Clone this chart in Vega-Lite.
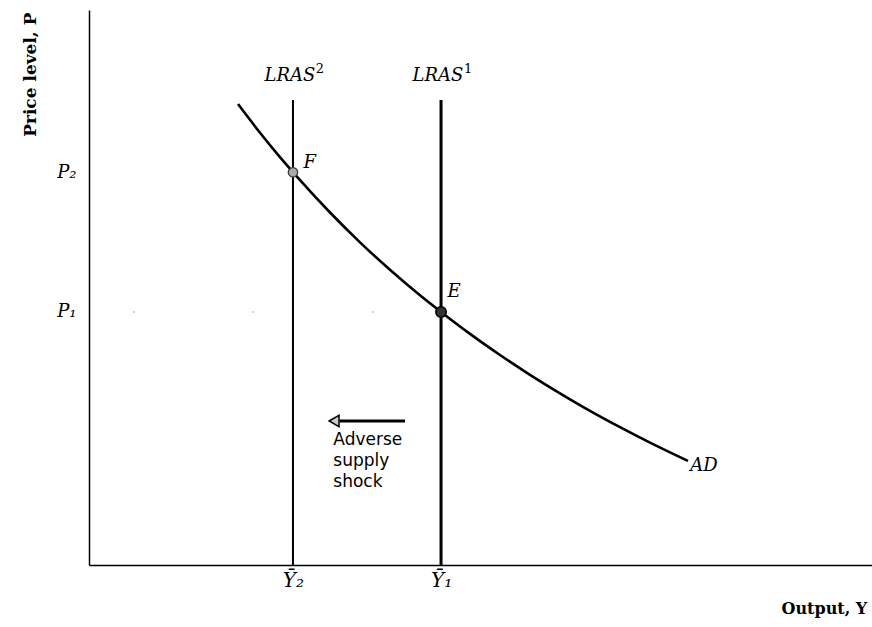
{
  "$schema": "https://vega.github.io/schema/vega-lite/v6.json",
  "width": 783,
  "height": 555,
  "autosize": {"type": "none"},
  "padding": {"left": 89, "top": 10, "right": 0, "bottom": 62},
  "background": "white",
  "config": {"view": {"stroke": null}, "font": "DejaVu Serif"},
  "datasets": {
    "lras": [
      {"curve": "LRAS2", "base": "LRAS", "sup": "2", "x": 26.05, "top": 83.8, "labelY": 88.1},
      {"curve": "LRAS1", "base": "LRAS", "sup": "1", "x": 44.96, "top": 83.8, "labelY": 88.1}
    ],
    "ad": [
      {"x": 19.03, "y": 83.06},
      {"x": 21.84, "y": 77.89},
      {"x": 24.39, "y": 73.48},
      {"x": 26.95, "y": 69.33},
      {"x": 30.78, "y": 63.51},
      {"x": 34.61, "y": 58.14},
      {"x": 38.44, "y": 53.19},
      {"x": 42.27, "y": 48.59},
      {"x": 44.96, "y": 45.59},
      {"x": 48.66, "y": 41.64},
      {"x": 52.49, "y": 37.84},
      {"x": 56.32, "y": 34.27},
      {"x": 60.15, "y": 30.94},
      {"x": 63.98, "y": 27.78},
      {"x": 67.82, "y": 24.83},
      {"x": 71.65, "y": 22.04},
      {"x": 76.5, "y": 18.74}
    ],
    "points": [
      {"name": "F", "x": 26.05, "y": 70.75, "lx": 27.4, "ly": 72.4},
      {"name": "E", "x": 44.96, "y": 45.59, "lx": 45.8, "ly": 49.2}
    ],
    "adLabel": [{"label": "AD", "x": 76.8, "y": 17.84}],
    "arrow": [{"x": 40.36, "x2": 32.0, "y": 25.95, "headX": 31.3}],
    "shock": [{"text": "Adverse\nsupply\nshock", "x": 31.2, "y": 22.52}],
    "p1line": [{"x": 0, "x2": 44.96, "y": 45.59}]
  },
  "layer": [
    {
      "data": {"name": "p1line"},
      "mark": {"type": "rule", "color": "#888", "strokeWidth": 1.2, "strokeDash": [1.5, 118], "strokeDashOffset": -44},
      "encoding": {
        "x": {"field": "x", "type": "quantitative", "scale": {"domain": [0, 100], "nice": false, "zero": false},
          "axis": {
            "values": [26.05, 44.96],
            "labelExpr": "datum.value < 35 ? 'Ȳ₂' : 'Ȳ₁'",
            "ticks": false, "grid": false,
            "domainColor": "black", "domainWidth": 1.5,
            "labelFont": "DejaVu Serif", "labelFontStyle": "italic", "labelFontSize": 20, "labelColor": "black",
            "labelPadding": 5,
            "title": "Output, Y",
            "titleFont": "DejaVu Serif", "titleFontSize": 16, "titleFontWeight": "bold", "titleColor": "black",
            "titleAnchor": null, "titleAlign": "left", "titleX": 692, "titleY": 43, "titleBaseline": "middle"
          }},
        "x2": {"field": "x2"},
        "y": {"field": "y", "type": "quantitative", "scale": {"domain": [0, 100], "nice": false, "zero": false},
          "axis": {
            "values": [45.59, 70.81],
            "labelExpr": "datum.value > 60 ? 'P₂' : 'P₁'",
            "ticks": false, "grid": false,
            "domainColor": "black", "domainWidth": 1.5,
            "labelFont": "DejaVu Serif", "labelFontStyle": "italic", "labelFontSize": 18, "labelColor": "black",
            "labelPadding": 13,
            "title": "Price level, P",
            "titleFont": "DejaVu Serif", "titleFontSize": 17, "titleFontWeight": "bold", "titleColor": "black",
            "titleAngle": -90, "titleAlign": "right", "titleBaseline": "middle", "titleX": -59, "titleY": 2
          }}
      }
    },
    {
      "data": {"name": "lras"},
      "transform": [{"filter": "datum.curve == 'LRAS2'"}],
      "mark": {"type": "rule", "color": "black", "strokeWidth": 2},
      "encoding": {
        "x": {"field": "x", "type": "quantitative"},
        "y": {"field": "top", "type": "quantitative"},
        "y2": {"datum": 0}
      }
    },
    {
      "data": {"name": "lras"},
      "transform": [{"filter": "datum.curve == 'LRAS1'"}],
      "mark": {"type": "rule", "color": "black", "strokeWidth": 3},
      "encoding": {
        "x": {"field": "x", "type": "quantitative"},
        "y": {"field": "top", "type": "quantitative"},
        "y2": {"datum": 0}
      }
    },
    {
      "data": {"name": "lras"},
      "mark": {"type": "text", "font": "DejaVu Serif", "fontStyle": "italic", "fontSize": 18, "align": "center", "baseline": "middle", "color": "black", "dx": -3},
      "encoding": {
        "x": {"field": "x", "type": "quantitative"},
        "y": {"field": "labelY", "type": "quantitative"},
        "text": {"field": "base"}
      }
    },
    {
      "data": {"name": "lras"},
      "mark": {"type": "text", "font": "DejaVu Serif", "fontSize": 13, "align": "center", "baseline": "middle", "color": "black", "dx": 27, "dy": -7},
      "encoding": {
        "x": {"field": "x", "type": "quantitative"},
        "y": {"field": "labelY", "type": "quantitative"},
        "text": {"field": "sup"}
      }
    },
    {
      "data": {"name": "ad"},
      "mark": {"type": "line", "interpolate": "monotone", "color": "black", "strokeWidth": 2.6},
      "encoding": {
        "x": {"field": "x", "type": "quantitative"},
        "y": {"field": "y", "type": "quantitative"}
      }
    },
    {
      "data": {"name": "adLabel"},
      "mark": {"type": "text", "font": "DejaVu Serif", "fontStyle": "italic", "fontSize": 18, "align": "left", "baseline": "middle", "color": "black"},
      "encoding": {
        "x": {"field": "x", "type": "quantitative"},
        "y": {"field": "y", "type": "quantitative"},
        "text": {"field": "label"}
      }
    },
    {
      "data": {"name": "points"},
      "transform": [{"filter": "datum.name == 'F'"}],
      "mark": {"type": "point", "filled": true, "fill": "#aaa", "stroke": "#333", "strokeWidth": 1.2, "size": 90, "opacity": 1},
      "encoding": {
        "x": {"field": "x", "type": "quantitative"},
        "y": {"field": "y", "type": "quantitative"}
      }
    },
    {
      "data": {"name": "points"},
      "transform": [{"filter": "datum.name == 'E'"}],
      "mark": {"type": "point", "filled": true, "fill": "#333", "stroke": "black", "strokeWidth": 1.5, "size": 110, "opacity": 1},
      "encoding": {
        "x": {"field": "x", "type": "quantitative"},
        "y": {"field": "y", "type": "quantitative"}
      }
    },
    {
      "data": {"name": "points"},
      "mark": {"type": "text", "font": "DejaVu Serif", "fontStyle": "italic", "fontSize": 18, "align": "left", "baseline": "middle", "color": "black"},
      "encoding": {
        "x": {"field": "lx", "type": "quantitative"},
        "y": {"field": "ly", "type": "quantitative"},
        "text": {"field": "name"}
      }
    },
    {
      "data": {"name": "arrow"},
      "mark": {"type": "rule", "color": "black", "strokeWidth": 3},
      "encoding": {
        "x": {"field": "x", "type": "quantitative"},
        "x2": {"field": "x2"},
        "y": {"field": "y", "type": "quantitative"}
      }
    },
    {
      "data": {"name": "arrow"},
      "mark": {"type": "point", "shape": "triangle-left", "filled": true, "fill": "#ccc", "stroke": "black", "strokeWidth": 1.5, "size": 130, "opacity": 1},
      "encoding": {
        "x": {"field": "headX", "type": "quantitative"},
        "y": {"field": "y", "type": "quantitative"}
      }
    },
    {
      "data": {"name": "shock"},
      "mark": {"type": "text", "font": "DejaVu Sans", "fontSize": 17, "align": "left", "baseline": "middle", "lineBreak": "\n", "lineHeight": 21, "color": "black"},
      "encoding": {
        "x": {"field": "x", "type": "quantitative"},
        "y": {"field": "y", "type": "quantitative"},
        "text": {"field": "text"}
      }
    }
  ]
}
